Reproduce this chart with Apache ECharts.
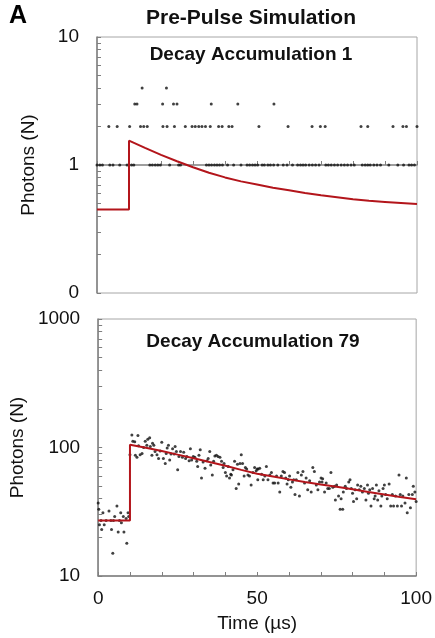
<!DOCTYPE html>
<html>
<head>
<meta charset="utf-8">
<script src="https://cdn.jsdelivr.net/npm/echarts@6/dist/echarts.min.js"></script>
<style>
  html, body { margin: 0; padding: 0; background: #fff; }
  #chart { width: 435px; height: 638px; }
</style>
</head>
<body>
<div id="chart"></div>
<script>
// time axis labels and y tick labels
const xLabels = [0, 50, 100]
const topYRange = [0.1, 10]
const bottomYRange = [10, 1000]

// top panel: photon counts of a single decay, grouped by count level (times in µs)
const topCount1 = [0.0, 0.9, 1.7, 4.0, 5.0, 7.1, 9.4, 10.8, 11.5, 16.5, 17.3, 18.2, 19.0, 19.8, 22.7, 25.5, 26.1,
  34.2, 35.0, 35.8, 36.7, 37.5, 38.3, 39.2, 40.8, 42.7, 45.0, 46.9, 47.7, 48.6, 49.4, 50.2, 51.6, 52.3, 53.4,
  54.2, 55.2, 56.5, 58.2, 59.4, 61.1, 62.7, 63.6, 64.4, 65.2, 66.3, 67.3, 68.3, 69.4, 71.5, 72.3, 73.2, 74.2,
  75.2, 76.3, 77.3, 78.3, 79.4, 80.4, 82.9, 83.8, 84.6, 85.4, 86.5, 87.5, 88.6, 91.2, 94.0, 95.8, 97.5, 98.3, 99.2]
const topCount2 = [3.7, 6.3, 10.2, 13.6, 14.6, 15.7, 20.6, 21.9, 24.2, 27.6, 29.7, 30.7, 31.8, 32.8, 33.9, 35.4,
  38.0, 39.1, 41.2, 42.2, 50.6, 59.7, 67.2, 69.8, 71.3, 82.5, 84.6, 92.5, 95.6, 96.7, 100.0]
const topCount3 = [11.8, 12.5, 20.5, 23.9, 25.0, 35.7, 44.0, 55.3]
const topCount4 = [14.1, 21.7]

// bottom panel: accumulated photons (79 decays)
const bottomTimes = [0.0, 0.2, 0.4, 0.9, 1.1, 1.5, 1.9, 2.5, 3.4, 4.0, 4.2, 4.6, 4.8, 5.2, 5.9, 6.3, 6.7, 7.1, 7.3,
  7.9, 8.1, 8.8, 9.0, 9.4, 9.6,
  10.0, 10.6, 10.9, 11.5, 11.7, 12.2, 12.5, 12.7, 13.2, 13.8, 14.3, 14.8, 15.3, 15.6, 16.2, 16.4, 16.9, 17.1,
  17.5, 17.9, 18.5, 19.0, 19.5, 20.0, 20.5, 21.1, 21.4, 21.7, 22.1, 22.5, 22.9, 23.4, 23.9, 24.2, 24.6, 25.0,
  25.4, 25.9, 26.5, 26.9, 27.5, 27.9, 28.6, 29.0, 29.4, 29.9, 30.4, 31.0, 31.3, 31.7, 32.1, 32.5, 33.0, 33.6,
  34.2, 34.6, 35.1, 35.4, 35.9, 36.3, 36.7, 37.2, 37.7, 38.3, 38.8, 39.3, 39.6, 40.0, 40.4, 40.9, 41.3, 41.7,
  41.9, 42.4, 42.9, 43.4, 43.8, 44.2, 44.6, 45.0, 45.4, 45.9, 46.3, 46.7, 47.1, 47.6, 48.1, 48.7, 49.2, 49.7,
  50.0, 50.2, 50.3, 50.8, 51.4, 51.9, 52.4, 52.9, 53.4, 54.0, 54.5, 55.0, 55.5, 56.1, 56.6, 57.1, 57.6, 58.1,
  58.6, 59.0, 59.4, 59.8, 60.2, 60.6, 61.1, 61.5, 61.9, 62.3, 62.8, 63.3, 63.9, 64.4, 64.9, 65.4, 65.9, 66.5,
  67.0, 67.5, 68.0, 68.6, 69.1, 69.6, 70.1, 70.4, 70.6, 71.2, 71.7, 72.2, 72.7, 73.2, 73.8, 74.3, 74.6, 75.0,
  75.6, 76.1, 76.4, 76.9, 77.1, 77.7, 78.1, 78.8, 79.2, 79.6, 80.0, 80.3, 80.8, 81.3, 81.6, 82.1, 82.6, 83.1,
  83.7, 84.2, 84.7, 85.0, 85.4, 85.8, 86.3, 86.8, 87.1, 87.5, 87.9, 88.3, 88.9, 89.2, 89.6, 90.0, 90.4, 90.9,
  91.5, 92.0, 92.5, 92.9, 93.5, 94.1, 94.6, 95.0, 95.4, 95.8, 96.5, 96.9, 97.2, 97.7, 98.2, 98.8, 99.1, 99.6, 100.0]
const bottomCounts = [37, 33, 25, 27, 23, 31, 25, 27, 32, 27, 23, 15, 27, 29, 35, 22, 27, 31, 26,
  29, 22, 28, 18, 31, 29,
  88, 125, 112, 111, 87, 84, 124, 103, 88, 90, 100, 112, 104, 116, 119, 102, 87, 108,
  104, 93, 88, 82, 94, 110, 82, 75, 90, 99, 104, 80, 89, 98, 89, 102, 93, 67,
  85, 93, 84, 92, 82, 85, 79, 98, 80, 85, 84, 78, 71, 87, 96, 58, 77, 69,
  79, 82, 93, 73, 61, 78, 86, 87, 85, 84, 78, 70, 75, 64, 60, 71, 58, 62,
  61, 67, 78, 48, 74, 52, 75, 88, 75, 60, 70, 68, 61, 60, 51, 64, 70, 66,
  68, 56, 68, 69, 62, 56, 60, 71, 56, 61, 64, 53, 53, 60, 53, 45, 60, 65,
  64, 58, 52, 56, 60, 49, 54, 56, 43, 56, 64, 42, 61, 65, 53, 58, 47, 55,
  45, 70, 65, 51, 47, 54, 58, 54, 57, 45, 53, 48, 48, 64, 49, 50, 39, 51,
  42, 33, 40, 33, 45, 50, 48, 54, 56, 48, 44, 38, 47, 40, 51, 47, 50, 45,
  48, 39, 51, 44, 47, 35, 48, 40, 42, 51, 39, 46, 35, 42, 48, 51, 43, 40,
  52, 35, 43, 35, 42, 35, 61, 43, 35, 42, 37, 58, 31, 43, 34, 43, 50, 45, 38]

// fitted decay curves (pulse at 10 µs)
const fitTimes = [0, 10, 10, 15, 20, 25, 30, 35, 40, 45, 50, 55, 60, 65, 70, 75, 80, 85, 90, 95, 100]
const topFit = [0.45, 0.45, 1.55, 1.36, 1.2, 1.07, 0.96, 0.87, 0.8, 0.745, 0.705, 0.665, 0.635, 0.605,
  0.58, 0.56, 0.54, 0.525, 0.515, 0.505, 0.495]
const bottomFit = [27, 27, 105, 99.5, 94, 88, 82.5, 77, 72, 67, 62.5, 59.5, 56.5, 53.8, 51.5, 49.5, 47.3,
  45, 43, 41.2, 39.5]

const FONT = '"Liberation Sans", Arial, sans-serif'
const axisGrey = '#7f7f7f'
const red = '#b3151b'

const zip = (xs, ys) => xs.map((x, i) => [x, ys[i]])
const levelPoints = (times, n) => times.map(t => [t, n])

// tick marks at 1..9 x each decade, in log10 units for the helper axis
const decadeTicks = (lo, hi) => {
  const out = []
  for (let d = lo; d < hi; d *= 10) {
    for (let k = 1; k < 10; k++) out.push(Math.log10(k * d))
  }
  out.push(Math.log10(hi))
  return out
}

const chart = echarts.init(document.getElementById('chart'))

const xAxisBase = (gridIndex, showLabels) => ({
  type: 'value',
  gridIndex,
  min: 0,
  max: 100,
  interval: 10,
  axisLine: { show: true, lineStyle: { color: axisGrey, width: 1.5 } },
  axisTick: { show: true, inside: true, length: 4, lineStyle: { color: axisGrey } },
  splitLine: { show: false },
  axisLabel: {
    show: showLabels,
    fontSize: 19,
    color: '#111',
    fontFamily: FONT,
    margin: 13,
    formatter: v => (xLabels.includes(v) ? String(v) : '')
  }
})

const logAxis = (gridIndex, range) => ({
  type: 'log',
  logBase: 10,
  gridIndex,
  min: range[0],
  max: range[1],
  position: 'left',
  name: 'Photons (N)',
  nameLocation: 'middle',
  nameGap: 59,
  nameTextStyle: { fontSize: 19, color: '#111', fontFamily: FONT },
  axisLine: { show: true, lineStyle: { color: axisGrey, width: 1.5 } },
  axisTick: { show: false },
  splitLine: { show: false },
  axisLabel: {
    fontSize: 19,
    color: '#111',
    fontFamily: FONT,
    margin: 18,
    formatter: v => String(Math.round(v))
  }
})

const tickAxis = (gridIndex, range) => ({
  type: 'value',
  gridIndex,
  min: Math.log10(range[0]),
  max: Math.log10(range[1]),
  position: 'left',
  axisLine: { show: false },
  axisLabel: { show: false },
  splitLine: { show: false },
  axisTick: {
    show: true,
    inside: true,
    length: 4,
    lineStyle: { color: axisGrey },
    customValues: decadeTicks(range[0], range[1])
  }
})

const option = {
  animation: false,
  backgroundColor: '#fff',
  graphic: [
    { type: 'text', left: 9, top: 4, style: { text: 'A', font: 'bold 25px ' + FONT, fill: '#000' } },
    { type: 'text', x: 251, y: 18, style: { text: 'Pre-Pulse Simulation', font: 'bold 21px ' + FONT, fill: '#111', align: 'center', verticalAlign: 'middle' } },
    { type: 'text', x: 251, y: 55, style: { text: 'Decay Accumulation 1', font: 'bold 19px ' + FONT, fill: '#111', align: 'center', verticalAlign: 'middle' } },
    { type: 'text', x: 253, y: 342, style: { text: 'Decay Accumulation 79', font: 'bold 19px ' + FONT, fill: '#111', align: 'center', verticalAlign: 'middle' } }
  ],
  grid: [
    { left: 97, right: 18, top: 37, height: 256, show: true, borderColor: '#a6a6a6', borderWidth: 1 },
    { left: 97, right: 18, top: 319, height: 257, show: true, borderColor: '#a6a6a6', borderWidth: 1 }
  ],
  xAxis: [
    xAxisBase(0, false),
    Object.assign(xAxisBase(1, true), {
      name: 'Time (µs)',
      nameLocation: 'middle',
      nameGap: 38,
      nameTextStyle: { fontSize: 19, color: '#111', fontFamily: FONT }
    })
  ],
  yAxis: [
    logAxis(0, topYRange),
    logAxis(1, bottomYRange),
    tickAxis(0, topYRange),
    tickAxis(1, bottomYRange)
  ],
  series: [
    {
      type: 'scatter',
      xAxisIndex: 0,
      yAxisIndex: 0,
      symbol: 'circle',
      symbolSize: 3,
      itemStyle: { color: '#111' },
      data: [].concat(levelPoints(topCount1, 1), levelPoints(topCount2, 2),
        levelPoints(topCount3, 3), levelPoints(topCount4, 4))
    },
    {
      type: 'line',
      xAxisIndex: 0,
      yAxisIndex: 0,
      showSymbol: false,
      lineStyle: { color: red, width: 2 },
      data: zip(fitTimes, topFit)
    },
    {
      type: 'scatter',
      xAxisIndex: 1,
      yAxisIndex: 1,
      symbol: 'circle',
      symbolSize: 3,
      itemStyle: { color: '#111' },
      data: zip(bottomTimes, bottomCounts)
    },
    {
      type: 'line',
      xAxisIndex: 1,
      yAxisIndex: 1,
      showSymbol: false,
      lineStyle: { color: red, width: 2 },
      data: zip(fitTimes, bottomFit)
    }
  ]
}

chart.setOption(option)
</script>
</body>
</html>
